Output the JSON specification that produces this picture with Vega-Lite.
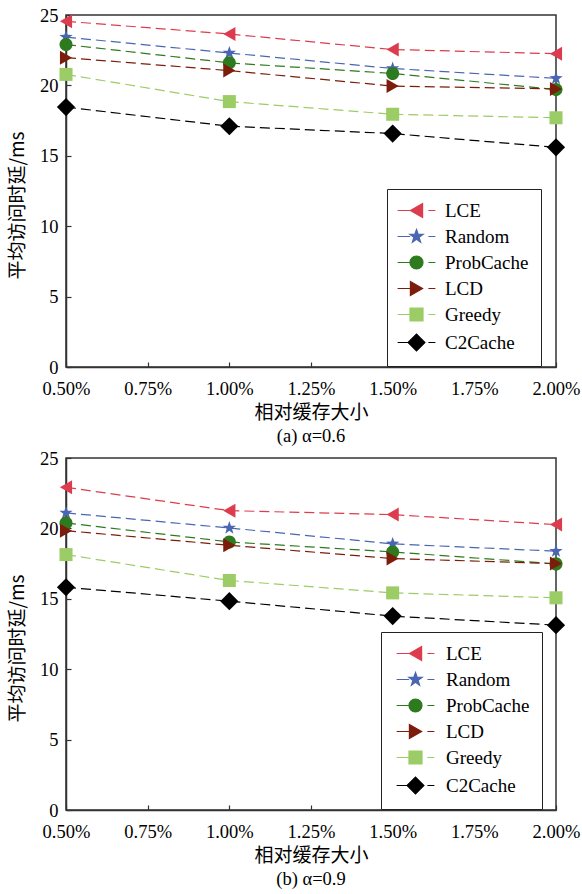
{
  "$schema": "https://vega.github.io/schema/vega-lite/v6.json",
  "background": "white",
  "padding": {"left": 7, "top": 5, "right": 2, "bottom": 2},
  "spacing": 2,
  "config": {
    "view": {"stroke": "#333", "strokeWidth": 1.5},
    "font": "'Liberation Serif', 'Times New Roman', Times, 'DejaVu Serif', serif",
    "style": {
      "guide-label": {"font": "'Liberation Serif', 'Times New Roman', Times, 'DejaVu Serif', serif"}
    },
    "axis": {
      "grid": false,
      "domainColor": "#333",
      "domainWidth": 1.5,
      "tickColor": "#333",
      "tickWidth": 1.2,
      "tickSize": -5,
      "labelFont": "'Liberation Serif', 'Times New Roman', Times, 'DejaVu Serif', serif",
      "labelFontSize": 18.5,
      "labelColor": "#000",
      "titleFont": "Noto Sans CJK SC",
      "titleFontSize": 19,
      "titleFontWeight": "normal",
      "titleColor": "#000",
      "labelFlush": false,
      "labelOverlap": false
    },
    "legend": {
      "labelFont": "'Liberation Serif', 'Times New Roman', Times, 'DejaVu Serif', serif",
      "labelFontSize": 19,
      "labelColor": "#000",
      "symbolOpacity": 1,
      "symbolSize": 196,
      "symbolStrokeWidth": 1.2,
      "strokeColor": "#222",
      "fillColor": "white",
      "padding": 12,
      "rowPadding": 6
    }
  },
  "datasets": {
    "a": [
      {"x": 0.5, "y": 24.55, "series": "LCE"},
      {"x": 1.0, "y": 23.65, "series": "LCE"},
      {"x": 1.5, "y": 22.55, "series": "LCE"},
      {"x": 2.0, "y": 22.25, "series": "LCE"},
      {"x": 0.5, "y": 23.43, "series": "Random"},
      {"x": 1.0, "y": 22.3, "series": "Random"},
      {"x": 1.5, "y": 21.2, "series": "Random"},
      {"x": 2.0, "y": 20.5, "series": "Random"},
      {"x": 0.5, "y": 22.9, "series": "ProbCache"},
      {"x": 1.0, "y": 21.6, "series": "ProbCache"},
      {"x": 1.5, "y": 20.85, "series": "ProbCache"},
      {"x": 2.0, "y": 19.7, "series": "ProbCache"},
      {"x": 0.5, "y": 21.97, "series": "LCD"},
      {"x": 1.0, "y": 21.05, "series": "LCD"},
      {"x": 1.5, "y": 19.95, "series": "LCD"},
      {"x": 2.0, "y": 19.75, "series": "LCD"},
      {"x": 0.5, "y": 20.78, "series": "Greedy"},
      {"x": 1.0, "y": 18.85, "series": "Greedy"},
      {"x": 1.5, "y": 17.95, "series": "Greedy"},
      {"x": 2.0, "y": 17.7, "series": "Greedy"},
      {"x": 0.5, "y": 18.46, "series": "C2Cache"},
      {"x": 1.0, "y": 17.1, "series": "C2Cache"},
      {"x": 1.5, "y": 16.58, "series": "C2Cache"},
      {"x": 2.0, "y": 15.6, "series": "C2Cache"}
    ],
    "b": [
      {"x": 0.5, "y": 22.92, "series": "LCE"},
      {"x": 1.0, "y": 21.26, "series": "LCE"},
      {"x": 1.5, "y": 20.98, "series": "LCE"},
      {"x": 2.0, "y": 20.27, "series": "LCE"},
      {"x": 0.5, "y": 21.1, "series": "Random"},
      {"x": 1.0, "y": 20.03, "series": "Random"},
      {"x": 1.5, "y": 18.9, "series": "Random"},
      {"x": 2.0, "y": 18.38, "series": "Random"},
      {"x": 0.5, "y": 20.39, "series": "ProbCache"},
      {"x": 1.0, "y": 19.04, "series": "ProbCache"},
      {"x": 1.5, "y": 18.33, "series": "ProbCache"},
      {"x": 2.0, "y": 17.48, "series": "ProbCache"},
      {"x": 0.5, "y": 19.84, "series": "LCD"},
      {"x": 1.0, "y": 18.8, "series": "LCD"},
      {"x": 1.5, "y": 17.86, "series": "LCD"},
      {"x": 2.0, "y": 17.5, "series": "LCD"},
      {"x": 0.5, "y": 18.14, "series": "Greedy"},
      {"x": 1.0, "y": 16.3, "series": "Greedy"},
      {"x": 1.5, "y": 15.42, "series": "Greedy"},
      {"x": 2.0, "y": 15.07, "series": "Greedy"},
      {"x": 0.5, "y": 15.82, "series": "C2Cache"},
      {"x": 1.0, "y": 14.83, "series": "C2Cache"},
      {"x": 1.5, "y": 13.77, "series": "C2Cache"},
      {"x": 2.0, "y": 13.13, "series": "C2Cache"}
    ]
  },
  "vconcat": [
    {
      "width": 490,
      "height": 352,
      "data": {"name": "a"},
      "title": {"text": "(a) α=0.6", "orient": "bottom", "anchor": "middle", "frame": "group", "font": "'Liberation Serif', 'Times New Roman', Times, 'DejaVu Serif', serif", "fontSize": 18.5, "fontWeight": "normal", "color": "#000", "offset": 4},
      "encoding": {
        "x": {"field": "x", "type": "quantitative", "scale": {"domain": [0.5, 2], "nice": false, "zero": false},
          "axis": {"values": [0.5, 0.75, 1, 1.25, 1.5, 1.75, 2], "labelExpr": "format(datum.value, '.2f') + '%'", "title": "相对缓存大小", "labelPadding": 17, "titlePadding": 6,
            "labelFont": "'Liberation Serif', 'Times New Roman', Times, 'DejaVu Serif', serif"}},
        "y": {"field": "y", "type": "quantitative", "scale": {"domain": [0, 25], "nice": false},
          "axis": {"values": [0, 5, 10, 15, 20, 25], "title": "平均访问时延/ms", "labelPadding": 13, "titlePadding": 12, "titleY": 190,
            "labelFont": "'Liberation Serif', 'Times New Roman', Times, 'DejaVu Serif', serif"}}
      },
      "layer": [
        {
          "mark": {"type": "line", "strokeDash": [10, 5], "strokeWidth": 1.2},
          "encoding": {
            "color": {"field": "series", "type": "nominal", "legend": null,
              "scale": {"domain": ["LCE", "Random", "ProbCache", "LCD", "Greedy", "C2Cache"], "range": ["#dc3c4e", "#4a66b2", "#2e7a1e", "#7c1d0b", "#9ccc65", "#000000"]}}
          }
        },
        {
          "mark": {"type": "point", "filled": true, "size": 196, "opacity": 1},
          "encoding": {
            "color": {"field": "series", "type": "nominal", "legend": null,
              "scale": {"domain": ["LCE", "Random", "ProbCache", "LCD", "Greedy", "C2Cache"], "range": ["#dc3c4e", "#4a66b2", "#2e7a1e", "#7c1d0b", "#9ccc65", "#000000"]}},
            "shape": {"field": "series", "type": "nominal", "legend": null,
              "scale": {"domain": ["LCE", "Random", "ProbCache", "LCD", "Greedy", "C2Cache"], "range": [
                "M-0.87,0L0.87,-1L0.87,1Z",
                "M0,-1L0.235,-0.324L0.951,-0.309L0.38,0.124L0.588,0.809L0,0.4L-0.588,0.809L-0.38,0.124L-0.951,-0.309L-0.235,-0.324Z",
                "M0.93,0A0.93,0.93 0 1,1 -0.93,0A0.93,0.93 0 1,1 0.93,0Z",
                "M0.87,0L-0.87,-1L-0.87,1Z",
                "M-0.93,-0.93H0.93V0.93H-0.93Z",
                "M-1.3,0L0,-1.3L1.3,0L0,1.3Z"
              ]}}
          }
        },
        {
          "transform": [{"filter": "false"}],
          "mark": {"type": "point", "filled": true, "size": 196, "strokeWidth": 1.2, "opacity": 1},
          "encoding": {
            "color": {"field": "series", "type": "nominal",
              "scale": {"domain": ["LCE", "Random", "ProbCache", "LCD", "Greedy", "C2Cache"], "range": ["#dc3c4e", "#4a66b2", "#2e7a1e", "#7c1d0b", "#9ccc65", "#000000"]},
              "legend": {"orient": "none", "legendX": 321, "legendY": 174, "title": null, "symbolOffset": 8, "labelOffset": 19, "labelFont": "'Liberation Serif', 'Times New Roman', Times, 'DejaVu Serif', serif"}},
            "stroke": {"field": "series", "type": "nominal",
              "scale": {"domain": ["LCE", "Random", "ProbCache", "LCD", "Greedy", "C2Cache"], "range": ["#dc3c4e", "#4a66b2", "#2e7a1e", "#7c1d0b", "#9ccc65", "#000000"]},
              "legend": {"orient": "none", "legendX": 321, "legendY": 174, "title": null, "symbolOffset": 8, "labelOffset": 19, "labelFont": "'Liberation Serif', 'Times New Roman', Times, 'DejaVu Serif', serif"}},
            "shape": {"field": "series", "type": "nominal",
              "scale": {"domain": ["LCE", "Random", "ProbCache", "LCD", "Greedy", "C2Cache"], "range": [
                "M-0.87,0L0.87,-1L0.87,1ZM-2.7,0H-0.87M1.7,0H2.7",
                "M0,-1L0.235,-0.324L0.951,-0.309L0.38,0.124L0.588,0.809L0,0.4L-0.588,0.809L-0.38,0.124L-0.951,-0.309L-0.235,-0.324ZM-2.7,0H-0.9M1.7,0H2.7",
                "M0.93,0A0.93,0.93 0 1,1 -0.93,0A0.93,0.93 0 1,1 0.93,0ZM-2.7,0H-0.93M1.7,0H2.7",
                "M0.87,0L-0.87,-1L-0.87,1ZM-2.7,0H-0.87M1.7,0H2.7",
                "M-0.93,-0.93H0.93V0.93H-0.93ZM-2.7,0H-0.93M1.7,0H2.7",
                "M-1.2,0L0,-1.2L1.2,0L0,1.2ZM-2.7,0H-1.2M1.7,0H2.7"
              ]},
              "legend": {"orient": "none", "legendX": 321, "legendY": 174, "title": null, "symbolOffset": 8, "labelOffset": 19, "labelFont": "'Liberation Serif', 'Times New Roman', Times, 'DejaVu Serif', serif"}}
          }
        }
      ],
      "resolve": {
        "scale": {"color": "independent", "shape": "independent", "stroke": "independent"},
        "legend": {"color": "independent", "shape": "independent", "stroke": "independent"}
      }
    },
    {
      "width": 490,
      "height": 352,
      "data": {"name": "b"},
      "title": {"text": "(b) α=0.9", "orient": "bottom", "anchor": "middle", "frame": "group", "font": "'Liberation Serif', 'Times New Roman', Times, 'DejaVu Serif', serif", "fontSize": 18.5, "fontWeight": "normal", "color": "#000", "offset": 4},
      "encoding": {
        "x": {"field": "x", "type": "quantitative", "scale": {"domain": [0.5, 2], "nice": false, "zero": false},
          "axis": {"values": [0.5, 0.75, 1, 1.25, 1.5, 1.75, 2], "labelExpr": "format(datum.value, '.2f') + '%'", "title": "相对缓存大小", "labelPadding": 17, "titlePadding": 6,
            "labelFont": "'Liberation Serif', 'Times New Roman', Times, 'DejaVu Serif', serif"}},
        "y": {"field": "y", "type": "quantitative", "scale": {"domain": [0, 25], "nice": false},
          "axis": {"values": [0, 5, 10, 15, 20, 25], "title": "平均访问时延/ms", "labelPadding": 13, "titlePadding": 12, "titleY": 190,
            "labelFont": "'Liberation Serif', 'Times New Roman', Times, 'DejaVu Serif', serif"}}
      },
      "layer": [
        {
          "mark": {"type": "line", "strokeDash": [10, 5], "strokeWidth": 1.2},
          "encoding": {
            "color": {"field": "series", "type": "nominal", "legend": null,
              "scale": {"domain": ["LCE", "Random", "ProbCache", "LCD", "Greedy", "C2Cache"], "range": ["#dc3c4e", "#4a66b2", "#2e7a1e", "#7c1d0b", "#9ccc65", "#000000"]}}
          }
        },
        {
          "mark": {"type": "point", "filled": true, "size": 196, "opacity": 1},
          "encoding": {
            "color": {"field": "series", "type": "nominal", "legend": null,
              "scale": {"domain": ["LCE", "Random", "ProbCache", "LCD", "Greedy", "C2Cache"], "range": ["#dc3c4e", "#4a66b2", "#2e7a1e", "#7c1d0b", "#9ccc65", "#000000"]}},
            "shape": {"field": "series", "type": "nominal", "legend": null,
              "scale": {"domain": ["LCE", "Random", "ProbCache", "LCD", "Greedy", "C2Cache"], "range": [
                "M-0.87,0L0.87,-1L0.87,1Z",
                "M0,-1L0.235,-0.324L0.951,-0.309L0.38,0.124L0.588,0.809L0,0.4L-0.588,0.809L-0.38,0.124L-0.951,-0.309L-0.235,-0.324Z",
                "M0.93,0A0.93,0.93 0 1,1 -0.93,0A0.93,0.93 0 1,1 0.93,0Z",
                "M0.87,0L-0.87,-1L-0.87,1Z",
                "M-0.93,-0.93H0.93V0.93H-0.93Z",
                "M-1.3,0L0,-1.3L1.3,0L0,1.3Z"
              ]}}
          }
        },
        {
          "transform": [{"filter": "false"}],
          "mark": {"type": "point", "filled": true, "size": 196, "strokeWidth": 1.2, "opacity": 1},
          "encoding": {
            "color": {"field": "series", "type": "nominal",
              "scale": {"domain": ["LCE", "Random", "ProbCache", "LCD", "Greedy", "C2Cache"], "range": ["#dc3c4e", "#4a66b2", "#2e7a1e", "#7c1d0b", "#9ccc65", "#000000"]},
              "legend": {"orient": "none", "legendX": 315, "legendY": 174, "title": null, "symbolOffset": 13, "labelOffset": 21, "labelFont": "'Liberation Serif', 'Times New Roman', Times, 'DejaVu Serif', serif"}},
            "stroke": {"field": "series", "type": "nominal",
              "scale": {"domain": ["LCE", "Random", "ProbCache", "LCD", "Greedy", "C2Cache"], "range": ["#dc3c4e", "#4a66b2", "#2e7a1e", "#7c1d0b", "#9ccc65", "#000000"]},
              "legend": {"orient": "none", "legendX": 315, "legendY": 174, "title": null, "symbolOffset": 13, "labelOffset": 21, "labelFont": "'Liberation Serif', 'Times New Roman', Times, 'DejaVu Serif', serif"}},
            "shape": {"field": "series", "type": "nominal",
              "scale": {"domain": ["LCE", "Random", "ProbCache", "LCD", "Greedy", "C2Cache"], "range": [
                "M-0.87,0L0.87,-1L0.87,1ZM-2.7,0H-0.87M1.7,0H2.7",
                "M0,-1L0.235,-0.324L0.951,-0.309L0.38,0.124L0.588,0.809L0,0.4L-0.588,0.809L-0.38,0.124L-0.951,-0.309L-0.235,-0.324ZM-2.7,0H-0.9M1.7,0H2.7",
                "M0.93,0A0.93,0.93 0 1,1 -0.93,0A0.93,0.93 0 1,1 0.93,0ZM-2.7,0H-0.93M1.7,0H2.7",
                "M0.87,0L-0.87,-1L-0.87,1ZM-2.7,0H-0.87M1.7,0H2.7",
                "M-0.93,-0.93H0.93V0.93H-0.93ZM-2.7,0H-0.93M1.7,0H2.7",
                "M-1.2,0L0,-1.2L1.2,0L0,1.2ZM-2.7,0H-1.2M1.7,0H2.7"
              ]},
              "legend": {"orient": "none", "legendX": 315, "legendY": 174, "title": null, "symbolOffset": 13, "labelOffset": 21, "labelFont": "'Liberation Serif', 'Times New Roman', Times, 'DejaVu Serif', serif"}}
          }
        }
      ],
      "resolve": {
        "scale": {"color": "independent", "shape": "independent", "stroke": "independent"},
        "legend": {"color": "independent", "shape": "independent", "stroke": "independent"}
      }
    }
  ]
}
